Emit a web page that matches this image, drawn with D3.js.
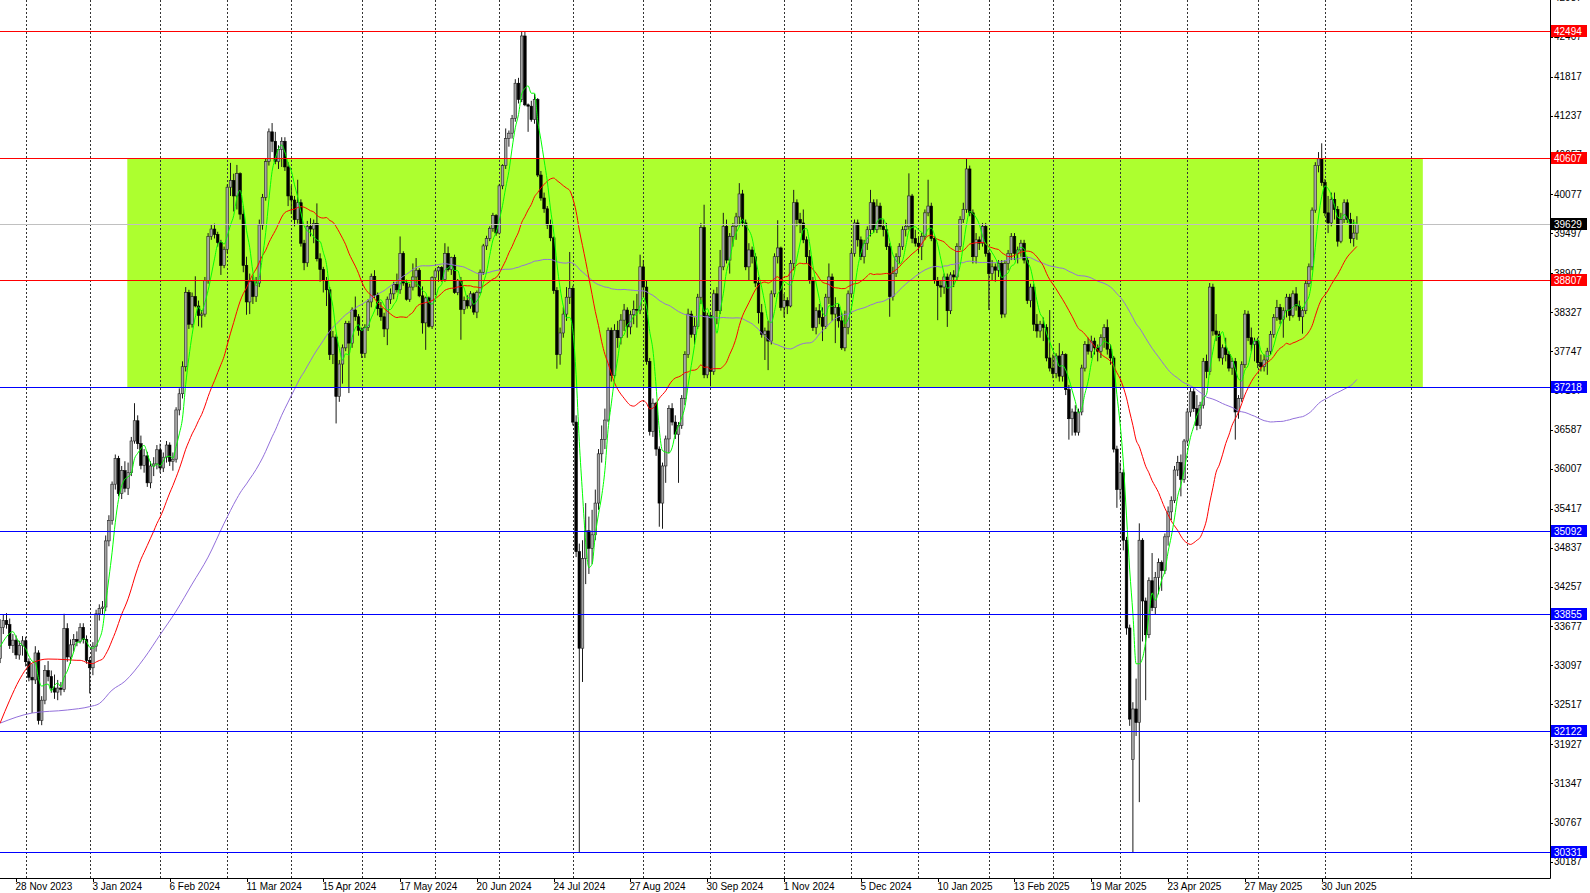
<!DOCTYPE html>
<html><head><meta charset="utf-8">
<script src="https://cdn.jsdelivr.net/npm/d3@7"></script>
<style>html,body{margin:0;padding:0;background:#fff;}svg{display:block;font-family:"Liberation Sans",Arial,sans-serif;}</style>
</head><body><svg id="c" width="1590" height="893"></svg>
<script>
// ---- data (daily bars from 21 Nov 2023) ----
const open=[
33200,33660,33760,33700,33390,33470,33250,33390,33460,33150,32920,32880,33280,32280,32580,33020,32930,32760,32700,32760,
32740,33640,33220,33400,33480,33450,33660,33480,33170,33060,33380,33860,33940,33960,34940,35240,35780,36160,35640,35980,
35720,35950,36420,36720,36380,36060,36200,35800,36050,36080,36290,36020,36180,36360,36120,36150,36880,37120,37520,38620,
38150,38560,38420,38280,38300,38800,39450,39560,39480,39360,39020,39260,40180,40280,40050,40380,39780,39020,38480,38780,
38560,38760,39620,40030,40560,41000,40860,40560,40740,40860,40480,40050,39990,39700,39950,39350,39060,39600,39560,39640,
39120,38960,38800,38660,37700,37960,37080,37560,37800,38160,37870,38360,38260,38060,37720,38100,38480,38860,38580,38380,
38260,38080,38520,38600,38740,38660,39200,38760,38520,38700,38850,38950,38570,38170,38540,38120,38840,38940,38990,38810,
39200,38960,39140,38620,38800,38370,38500,38420,38600,38330,38620,38920,39310,39420,39570,39760,39500,40200,40500,40900,
40980,41200,41720,41480,42420,41400,41380,41180,41480,40360,40020,39860,39620,39430,38650,37700,38020,38300,38550,38680,
36700,34780,33350,34680,35090,34830,35030,35500,36230,36440,36730,38060,37390,38060,37950,38210,38360,38110,38290,38370,
38360,39000,38700,37600,36560,36980,36300,35500,36050,36450,36900,36700,36520,36650,37050,37700,38300,38000,38120,38550,
39580,37400,38280,37450,38600,38350,39000,39600,39100,39450,39600,39740,40080,39650,39000,39250,39150,38760,38320,38000,
38050,37900,38600,39150,39280,38400,38500,38420,39050,39950,39700,39650,39400,39150,38800,38100,38350,38250,38120,38550,
38850,38300,38400,38200,37800,38100,38600,39200,39650,39400,39150,39350,39550,39950,39550,39900,39600,39550,39300,38560,
38900,39150,39300,39550,39600,40050,39420,39350,39300,39450,39800,39900,39420,38800,38720,38700,38850,38350,38880,38850,
39300,39700,39850,40450,39800,39150,39400,39350,39600,39200,38900,39000,38950,39050,38300,39050,39200,39450,39200,39250,
39350,39100,38500,38700,38150,38050,38150,38100,37650,37500,37420,37680,37380,37700,37180,36750,36850,36550,36850,37500,
37850,37750,37900,37800,37750,37950,38100,37780,37650,36300,35700,35950,34950,33650,31700,32450,32250,34950,34050,33550,
34350,33950,34400,34620,34500,35000,35370,35540,35990,36100,35850,36420,36850,37150,36900,36650,36950,37600,37450,38700,
38050,38000,37650,37800,37700,37500,37600,36850,37050,37550,38300,37950,37850,37900,37580,37520,37620,37750,38000,38250,
38400,38220,38350,38550,38280,38600,38420,38260,38350,38750,39000,39840,40500,40600,40250,39800,39650,40000,39850,39380,
39700,39950,39700,39420,39500];
const high=[
33780,33850,33870,33790,33560,33540,33460,33530,33520,33200,33120,33380,33320,32640,33100,33160,33020,32960,32880,32850,
33860,33720,33480,33560,33600,33720,33720,33540,33220,33440,33920,34000,34050,35020,35320,35820,36220,36200,36050,36120,
36100,36480,36980,36800,36500,36300,36260,36120,36180,36360,36380,36250,36420,36400,36250,36920,37200,37600,38700,38660,
38620,38860,38500,38360,38850,39500,39620,39640,39520,39400,39300,40220,40540,40380,40510,40400,39900,39150,38900,38860,
38850,39700,40080,40600,41050,41130,41000,40800,40920,40920,40550,40200,40050,40290,40000,39400,39680,39720,39700,39940,
39200,39000,38850,38700,38050,38000,37620,37850,38200,38200,38400,38560,38300,38100,38150,38520,38900,38950,38620,38480,
38320,38560,38680,38780,38900,39450,39230,38810,38750,39050,39130,38980,38710,38560,38560,38860,38960,39010,39010,39350,
39300,39150,39180,38820,38850,38560,38580,38640,38620,38650,38960,39340,39460,39600,39800,39780,40230,40520,41050,41020,
41250,41780,41800,42494,42480,41420,41460,41560,41500,40420,40100,39900,39700,39450,38700,38100,38400,38700,39220,38720,
36800,34900,34950,35500,35300,35400,35700,36300,36650,36900,38100,38100,38150,38200,38300,38450,38400,38350,38500,38600,
39180,39100,38800,37650,37050,37000,36340,36100,36500,36950,36980,36800,36700,37100,37750,38380,38350,38250,38600,39650,
39920,38320,38300,38660,38700,39250,39800,39700,39500,39650,39800,40240,40140,39700,39350,39300,39200,38850,38450,38100,
38200,38650,39200,39690,39300,38600,38550,39100,40140,40000,39800,39850,39450,39250,38850,38400,38450,38400,38600,39050,
38900,38550,38450,38320,38350,38650,39250,39700,39700,39450,39400,39600,40140,40000,40000,39950,39700,39650,39350,39000,
39200,39350,39600,39700,40385,40080,39550,39450,39500,39850,40290,39950,39450,38850,38800,38900,38900,38920,38950,39350,
39750,39950,40608,40500,39850,39500,39450,39650,39650,39250,39100,39050,39100,39100,39100,39250,39500,39500,39300,39400,
39400,39150,38750,38750,38300,38200,38250,38150,38360,37700,37720,37870,37750,37720,37250,36900,36950,36900,37550,37900,
37950,37980,37950,37850,38000,38150,38220,37850,37680,36350,36100,36000,35000,33700,32550,32900,35200,34980,34100,34400,
34760,34480,34680,34650,35050,35450,35600,36050,36200,36220,36450,36900,37220,37200,37100,37000,37650,37700,38760,38750,
38300,38050,37850,37950,37750,37650,37650,37100,37600,38360,38350,38100,37950,37950,37700,37700,37800,38050,38300,38510,
38450,38400,38600,38600,38650,38700,38500,38400,38800,39050,39880,40550,40700,40830,40300,40050,40100,40100,39900,39800,
40000,40000,39800,39700,39750];
const low=[
33130,33560,33640,33340,33280,33190,33180,33240,33080,32860,32390,32820,32220,32210,32520,32860,32690,32600,32580,32650,
32700,33150,33120,33300,33380,33420,33420,33120,32680,32950,33300,33760,33850,33900,34860,35180,35700,35600,35560,35660,
35620,35900,36380,36300,36000,35950,35740,35720,35900,36000,35950,35960,36100,36050,35980,36100,36800,37050,37450,38080,
38100,38400,38120,38100,38260,38750,39400,39420,39300,38880,38980,39200,40050,39820,39850,39700,38920,38290,38300,38450,
38480,38700,39550,39980,40500,40700,40520,40450,40480,40420,39900,39780,39600,39640,39300,38950,39000,39450,39350,39080,
38780,38620,38420,37620,37560,36680,37000,37270,37750,37130,37800,38200,37980,37650,37650,38050,38400,38540,38280,38200,
37960,37840,38450,38520,38620,38600,38720,38500,38480,38650,38700,38550,38010,37770,38100,38080,38580,38780,38780,38780,
38930,38880,38600,38580,37920,38300,38380,38380,38290,38240,38600,38880,39250,39380,39520,39460,39480,40150,40450,40780,
40900,41150,41420,41440,41380,41000,41150,41120,40330,39980,39800,39560,39380,38600,37490,37550,37950,38200,38450,36650,
34700,30331,32850,34300,34450,34600,34950,35400,36100,36300,36700,37300,37350,37800,37850,38050,37950,38000,38150,38100,
38300,38550,37550,36500,36480,36200,35150,35120,35800,36240,36650,36450,35800,36600,36950,37650,37950,37850,38080,38450,
37350,37350,37230,37400,38150,38300,38950,39050,38900,39300,39400,39600,39600,38950,38800,39050,38700,38160,37950,37620,
37470,37850,38550,39050,38350,38250,38300,38400,38950,39600,39500,39350,39050,38750,38050,38000,38150,37900,38080,38450,
38200,37870,38100,37770,37750,38000,38550,39150,39300,39100,39050,39250,39450,39500,39500,39550,39450,39250,38260,38500,
38850,39050,39250,39450,39550,39350,39300,39200,39100,39400,39750,39380,38750,38210,38550,38600,38110,38300,38700,38800,
39250,39650,39800,39750,39050,39050,39250,39300,39150,38360,38800,38780,38850,38240,38250,38950,39100,39100,39050,39150,
39050,38450,38400,38050,37950,37950,37900,37600,37450,37350,37350,37300,37300,37100,36440,36500,36500,36500,36800,37450,
37700,37650,37700,37600,37650,37800,37700,37550,36250,35430,35550,34800,33550,32200,30331,32050,31070,33450,32580,33500,
33900,33850,34150,34200,34450,34870,35250,35500,35900,35600,35800,36380,36780,36850,36580,36600,36900,37350,37400,37980,
37900,37600,37550,37600,37450,37400,36440,36750,37000,37500,37900,37750,37600,37500,37450,37450,37400,37700,37950,38200,
38150,37950,38250,38200,38250,38350,38200,38010,38300,38700,38950,39800,40400,40200,39750,39500,39600,39700,39300,39350,
39650,39650,39350,39300,39400];
const close=[
33660,33760,33700,33390,33470,33250,33390,33460,33150,32920,32880,33280,32280,32580,33020,32930,32760,32700,32760,32740,
33640,33220,33400,33480,33450,33660,33480,33170,33060,33380,33860,33940,33960,34940,35240,35780,36160,35640,35980,35720,
35950,36420,36720,36380,36060,36200,35800,36050,36080,36290,36020,36180,36360,36120,36150,36880,37120,37520,38620,38150,
38560,38420,38280,38300,38800,39450,39560,39480,39360,39020,39260,40180,40280,40050,40380,39780,39020,38480,38780,38560,
38760,39620,40030,40560,41000,40860,40560,40740,40860,40480,40050,39990,39700,39950,39350,39060,39600,39560,39640,39120,
38960,38800,38660,37700,37960,37080,37560,37800,38160,37870,38360,38260,38060,37720,38100,38480,38860,38580,38380,38260,
38080,38520,38600,38740,38660,39200,38760,38520,38700,38850,38950,38570,38170,38540,38120,38840,38940,38990,38810,39200,
38960,39140,38620,38800,38370,38500,38420,38600,38330,38620,38920,39310,39420,39570,39760,39500,40200,40500,40900,40980,
41200,41720,41480,42420,41400,41380,41180,41480,40360,40020,39860,39620,39430,38650,37700,38020,38300,38550,38680,36700,
34780,33350,34680,35090,34830,35030,35500,36230,36440,36730,38060,37390,38060,37950,38210,38360,38110,38290,38370,38360,
39000,38700,37600,36560,36980,36300,35500,36050,36450,36900,36700,36520,36650,37050,37700,38300,38000,38120,38550,39580,
37400,38280,37450,38600,38350,39000,39600,39100,39450,39600,39740,40080,39650,39000,39250,39150,38760,38320,38000,38050,
37900,38600,39150,39280,38400,38500,38420,39050,39950,39700,39650,39400,39150,38800,38100,38350,38250,38120,38550,38850,
38300,38400,38200,37800,38100,38600,39200,39650,39400,39150,39350,39550,39950,39550,39900,39600,39550,39300,38560,38900,
39150,39300,39550,39600,40050,39420,39350,39300,39450,39800,39900,39420,38800,38720,38700,38850,38350,38880,38850,39300,
39700,39850,40450,39800,39150,39400,39350,39600,39200,38900,39000,38950,39050,38300,39050,39200,39450,39200,39250,39350,
39100,38500,38700,38150,38050,38150,38100,37650,37500,37420,37680,37380,37700,37180,36750,36850,36550,36850,37500,37850,
37750,37900,37800,37750,37950,38100,37780,37650,36300,35700,35950,34950,33650,32300,32450,32250,34950,34050,33550,34350,
33950,34400,34620,34500,35000,35370,35540,35990,36100,35850,36420,36850,37150,36900,36650,36950,37600,37450,38700,38050,
38000,37650,37800,37700,37500,37600,36850,37050,37550,38300,37950,37850,37900,37580,37520,37620,37750,38000,38250,38400,
38220,38350,38550,38280,38600,38420,38260,38350,38750,39000,39840,40500,40600,40250,39800,39650,40000,39850,39380,39700,
39950,39700,39420,39500,39629];

const greenLead=[[0,33370],[2,33520]];
const redLead=[[0,32240],[3,32580],[6,32880],[10,33130],[15,33190],[21,33180]];
const purpleLead=[[0,32240],[10,32390],[21,32435],[28,32485],[31,32530],[35,32730],[39,32860],[45,33200],[50,33550],[55,33900],[60,34300],[65,34700],[70,35200]];
const maPeriods={green:5,red:25,purple:75};

const priceTicks=[42987,42407,41817,41237,40657,40077,39497,38907,38327,37747,37167,36587,36007,35417,34837,34257,33677,33097,32517,31927,31347,30767,30187];
const timeLabels=["28 Nov 2023","3 Jan 2024","6 Feb 2024","11 Mar 2024","15 Apr 2024","17 May 2024","20 Jun 2024","24 Jul 2024","27 Aug 2024","30 Sep 2024","1 Nov 2024","5 Dec 2024","10 Jan 2025","13 Feb 2025","19 Mar 2025","23 Apr 2025","27 May 2025","30 Jun 2025"];
const timeLabelFirstBar=5, timeLabelStep=24;

const redLevels=[42494,40607,38807];
const blueLevels=[37218,35092,33855,32122,30331];
const bidPrice=39629;
const zoneBars=[39.75,444.6];
const zonePrices=[40607,37218];

const firstDay="2023-11-21";
const holidays=["2023-12-25","2024-01-01","2024-03-29","2024-12-25","2025-01-01","2025-04-18"];
const futureSlots=22;

// ---- time axis: trading days for the bars, then one slot per calendar day into the future ----
const days=[];
{ let d=new Date(firstDay+"T00:00:00Z");
  while(days.length<close.length){ const wd=d.getUTCDay(); const s=d.toISOString().slice(0,10);
    if(wd!==0&&wd!==6&&!holidays.includes(s)) days.push(new Date(d));
    d=new Date(d.getTime()+86400000);}
  let f=days[days.length-1];
  for(let k=0;k<futureSlots;k++){ f=new Date(f.getTime()+86400000); days.push(f); } }

// ---- layout ----
const W=1590,H=893,PR=1550,PB=878;
const svg=d3.select("#c");
const x=d3.scaleLinear().domain([0,1]).range([0.1,3.3]);
const y=d3.scaleLinear().domain([29946,42953]).range([PB,0]);

svg.append("rect").attr("width",W).attr("height",H).attr("fill","#fff");
svg.append("defs").append("clipPath").attr("id","pc").append("rect").attr("x",0).attr("y",0).attr("width",PR).attr("height",PB);
const g=svg.append("g").attr("clip-path","url(#pc)");

// zone rectangle
g.append("rect").attr("x",x(zoneBars[0])).attr("width",x(zoneBars[1])-x(zoneBars[0]))
 .attr("y",y(zonePrices[0])).attr("height",y(zonePrices[1])-y(zonePrices[0])).attr("fill","#adff2f");

// monthly grid
const monthStarts=[];
for(let i=1;i<days.length;i++){ if(days[i].getUTCMonth()!==days[i-1].getUTCMonth()) monthStarts.push(i); }
g.selectAll("line.grid").data(monthStarts).join("line").attr("class","grid")
 .attr("x1",i=>Math.round(x(i))+0.5).attr("x2",i=>Math.round(x(i))+0.5).attr("y1",0).attr("y2",PB)
 .attr("stroke","#333").attr("stroke-width",1).attr("stroke-dasharray","2,2");

// candles
const idx=d3.range(close.length);
const bw=2.6;
g.selectAll("line.wick").data(idx).join("line").attr("class","wick")
 .attr("x1",i=>x(i)).attr("x2",i=>x(i)).attr("y1",i=>y(high[i])).attr("y2",i=>y(low[i]))
 .attr("stroke","#1a1a1a").attr("stroke-width",1);
g.selectAll("rect.body").data(idx).join("rect").attr("class","body")
 .attr("x",i=>x(i)-bw/2).attr("width",bw)
 .attr("y",i=>y(Math.max(open[i],close[i])))
 .attr("height",i=>Math.max(0.8,Math.abs(y(open[i])-y(close[i]))))
 .attr("fill",i=>close[i]>=open[i]?"#a4a4a4":"#000")
 .attr("stroke",i=>close[i]>=open[i]?"#222":"#000").attr("stroke-width",0.6);

// moving averages
function sma(n){const out=[];for(let i=n-1;i<close.length;i++){out.push([i,d3.mean(close.slice(i-n+1,i+1))]);}return out;}
const line=d3.line().x(d=>x(d[0])).y(d=>y(d[1])).curve(d3.curveMonotoneX);
[[purpleLead,maPeriods.purple,"#9370db"],[redLead,maPeriods.red,"#ff0000"],[greenLead,maPeriods.green,"#00ff00"]].forEach(([lead,n,col])=>{
  g.append("path").attr("d",line(lead.concat(sma(n)))).attr("fill","none").attr("stroke",col).attr("stroke-width",1);
});

// level lines
g.selectAll("line.rl").data(redLevels).join("line").attr("x1",0).attr("x2",PR)
 .attr("y1",v=>Math.round(y(v))+0.5).attr("y2",v=>Math.round(y(v))+0.5).attr("stroke","#ff0000");
g.selectAll("line.bl").data(blueLevels).join("line").attr("x1",0).attr("x2",PR)
 .attr("y1",v=>Math.round(y(v))+0.5).attr("y2",v=>Math.round(y(v))+0.5).attr("stroke","#0000ff");
g.append("line").attr("x1",0).attr("x2",PR).attr("y1",Math.round(y(bidPrice))+0.5).attr("y2",Math.round(y(bidPrice))+0.5).attr("stroke","#c0c0c0");

// frame
svg.append("line").attr("x1",PR+0.5).attr("x2",PR+0.5).attr("y1",0).attr("y2",PB+0.5).attr("stroke","#000");
svg.append("line").attr("x1",0).attr("x2",PR+0.5).attr("y1",PB+0.5).attr("y2",PB+0.5).attr("stroke","#000");

// price axis
const ax=svg.append("g");
priceTicks.forEach(v=>{
  const yy=y(v);
  ax.append("line").attr("x1",PR).attr("x2",PR+3).attr("y1",Math.round(yy)+0.5).attr("y2",Math.round(yy)+0.5).attr("stroke","#000");
  ax.append("text").attr("x",PR+4).attr("y",yy+3.5).attr("font-size",10).attr("fill","#000").text(v);
});
function tag(v,col){
  const yy=Math.round(y(v));
  ax.append("rect").attr("x",PR+1).attr("y",yy-6).attr("width",36).attr("height",12).attr("fill",col);
  ax.append("text").attr("x",PR+4).attr("y",yy+3.5).attr("font-size",10).attr("fill","#fff").text(v);
}
redLevels.forEach(v=>tag(v,"#ff0000"));
blueLevels.forEach(v=>tag(v,"#0000ff"));
tag(bidPrice,"#000");

// time axis
timeLabels.forEach((t,k)=>{
  const i=timeLabelFirstBar+k*timeLabelStep; const xx=Math.round(x(i))+0.5;
  svg.append("line").attr("x1",xx).attr("x2",xx).attr("y1",PB).attr("y2",PB+4).attr("stroke","#000");
  svg.append("text").attr("x",xx-1).attr("y",PB+12).attr("font-size",10).attr("fill","#000").text(t);
});
</script></body></html>
